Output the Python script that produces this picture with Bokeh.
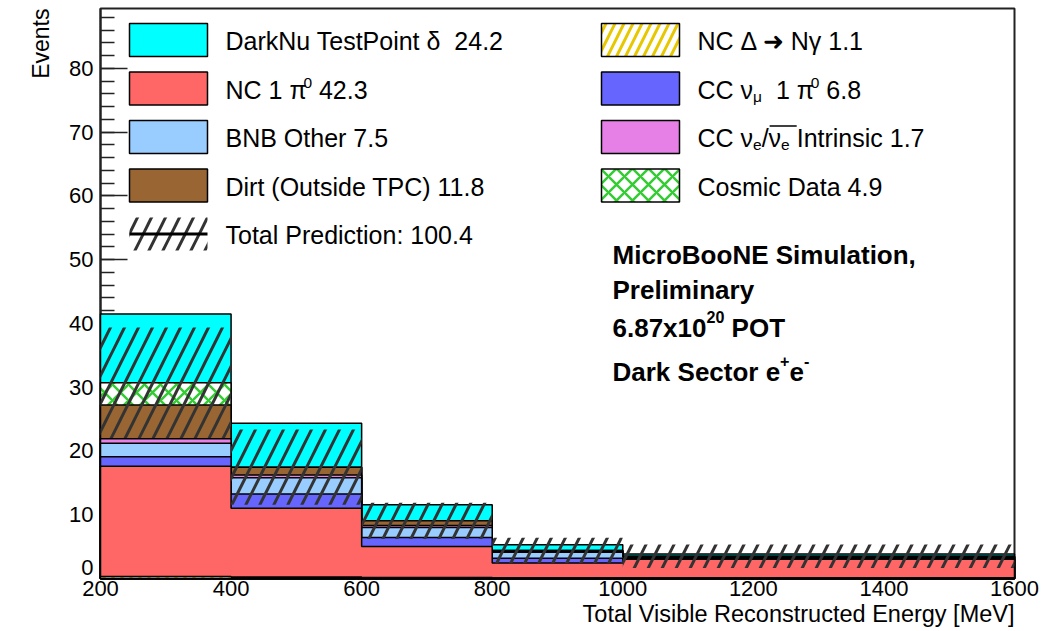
import numpy as np
from bokeh.plotting import figure
from bokeh.models import Range1d, SingleIntervalTicker, FixedTicker, Label, Title
from bokeh.embed import file_html
from bokeh.resources import INLINE

# ---------------- data ----------------
bin_edges = [200, 400, 600, 800, 1000, 1600]
nc_delta_ngamma = [0.30, 0.25, 0.15, 0.10, 0.10]
nc_1pi0 = [17.30, 10.75, 4.85, 2.35, 2.90]
cc_numu_1pi0 = [1.50, 2.25, 1.45, 0.72, 0.15]
bnb_other = [2.10, 2.55, 1.55, 0.95, 0.20]
cc_nue_intrinsic = [0.70, 0.45, 0.30, 0.10, 0.05]
dirt_outside_tpc = [5.30, 1.20, 0.75, 0.17, 0.10]
cosmic_data = [3.50, 0.00, 0.00, 0.00, 0.00]
darknu_testpoint = [10.80, 6.90, 2.50, 0.90, 0.35]
total_pred_error = [8.65, 5.90, 2.85, 2.00, 1.85]

y_tick_labels = ["0", "10", "20", "30", "40", "50", "60", "70", "80"]
legend_totals = {
    "darknu": "24.2", "nc1pi0": "42.3", "bnb": "7.5", "dirt": "11.8",
    "total": "100.4", "ncdelta": "1.1", "ccnumu": "6.8", "nue": "1.7",
    "cosmic": "4.9",
}
x_title = "Total Visible Reconstructed Energy [MeV]"
y_title = "Events"

# ---------------- layout ----------------
W, H = 1064, 631
L, R, T, B = 100, 1014, 8, 578
XMIN, XMAX = 200, 1600
YMIN, YMAX = 0.0, 89.4
FONT = "Liberation Sans"
ZERO_LABEL_LIFT = 1.75   # ROOT lifts the "0" label off the x axis


def fx(px):
    return XMIN + (px - L) * (XMAX - XMIN) / (R - L)


def fy(py):
    return YMIN + (B - py) * (YMAX - YMIN) / (B - T)


p = figure(width=W, height=H, x_range=Range1d(XMIN, XMAX), y_range=Range1d(YMIN, YMAX),
           output_backend="svg", toolbar_location=None,
           min_border_left=L, min_border_right=W - R, min_border_top=T, min_border_bottom=H - B)
p.xgrid.visible = False
p.ygrid.visible = False
p.background_fill_color = "white"
p.border_fill_color = "white"
p.outline_line_color = "#222222"
p.outline_line_width = 2

y_major = [float(v) for v in y_tick_labels]
y_major_pos = [v if v > 0 else v + ZERO_LABEL_LIFT for v in y_major]
p.yaxis.ticker = FixedTicker(ticks=y_major_pos, minor_ticks=list(np.arange(2, 89, 2)))
p.yaxis.major_label_overrides = {pos: lab for pos, lab in zip(y_major_pos, y_tick_labels)}
p.xaxis.ticker = SingleIntervalTicker(interval=200, num_minor_ticks=0)
for ax in (p.xaxis[0], p.yaxis[0]):
    ax.axis_line_color = "#222222"
    ax.axis_line_width = 2
    ax.major_tick_line_color = "#222222"
    ax.minor_tick_line_color = "#222222"
    ax.major_tick_line_width = 1.5
    ax.minor_tick_line_width = 1.5
    ax.major_label_text_font = FONT
    ax.major_label_text_font_size = "22px"
    ax.major_label_text_color = "black"
    ax.major_tick_out = 0
    ax.minor_tick_out = 0
p.yaxis.major_tick_in = 27
p.yaxis.minor_tick_in = 14
p.yaxis.major_label_standoff = 7
p.xaxis.major_tick_in = 0
p.xaxis.minor_tick_in = 0
p.xaxis.major_label_standoff = 2

# axis titles (ROOT style: right/top aligned)
xt = Title(text=x_title, align="right", text_font=FONT, text_font_size="23.5px",
           text_font_style="normal", text_color="black", standoff=1)
p.add_layout(xt, "below")
yt = Title(text=y_title, align="right", text_font=FONT, text_font_size="23px",
           text_font_style="normal", text_color="black", standoff=25)
p.add_layout(yt, "left")

# ---------------- stacked histogram ----------------
stack = [  # bottom -> top
    (nc_delta_ngamma, dict(fill_color="white", hatch_pattern="/", hatch_color="#e6c700", hatch_weight=3, hatch_scale=18)),
    (nc_1pi0, dict(fill_color="#ff6666")),
    (cc_numu_1pi0, dict(fill_color="#6666ff")),
    (bnb_other, dict(fill_color="#99ccff")),
    (cc_nue_intrinsic, dict(fill_color="#e680e6")),
    (dirt_outside_tpc, dict(fill_color="#996633")),
    (cosmic_data, dict(fill_color="white", hatch_pattern="x", hatch_color="#33cc33", hatch_weight=2.5, hatch_scale=16)),
    (darknu_testpoint, dict(fill_color="#00ffff")),
]
edges = np.array(bin_edges, dtype=float)
cum = np.cumsum(np.array([s[0] for s in stack], dtype=float), axis=0)


def step_polygon(vals):
    xs, ys = [edges[0]], [0.0]
    for i, v in enumerate(vals):
        xs += [edges[i], edges[i + 1]]
        ys += [v, v]
    xs.append(edges[-1])
    ys.append(0.0)
    return xs, ys


for k in range(len(stack) - 1, -1, -1):
    xs, ys = step_polygon(cum[k])
    r = p.patch(xs, ys, line_color="black", line_width=1.5, **stack[k][1])
    r.level = "annotation"

HATCH_TOTAL = dict(hatch_pattern="/", hatch_color="#333333", hatch_weight=3, hatch_scale=28)
background = cum[-2]
err = np.array(total_pred_error)
band = p.quad(left=edges[:-1], right=edges[1:], bottom=background - err, top=background + err,
              fill_color=None, line_color=None, **HATCH_TOTAL)
band.level = "annotation"

# ---------------- text helpers ----------------
AW = {' ': 278, '.': 278, ',': 278, ':': 278, '(': 333, ')': 333, '/': 278, '+': 584, '-': 333,
      'A': 667, 'B': 667, 'C': 722, 'D': 722, 'E': 667, 'I': 278, 'M': 833, 'N': 722, 'O': 778,
      'P': 667, 'S': 667, 'T': 611, 'V': 667,
      'a': 556, 'b': 556, 'c': 500, 'd': 556, 'e': 556, 'g': 556, 'h': 556, 'i': 222, 'k': 500,
      'l': 222, 'm': 833, 'n': 556, 'o': 556, 'r': 333, 's': 500, 't': 278, 'u': 556, 'v': 500,
      'x': 500, 'y': 500, 'ν': 500, 'μ': 577, 'π': 560, 'δ': 556, 'Δ': 668, 'γ': 500, '→': 1000}
BW = dict(AW)
BW.update({'r': 389, 'c': 556, 't': 333, 'o': 611, 'x': 556, 'k': 556, 'i': 278, 'l': 278,
           'n': 611, 'u': 611, 'm': 889, 'y': 556, 'a': 556, 'e': 556, 'P': 667})


def text_width(txt, size, bold=False):
    table = BW if bold else AW
    return sum(table.get(c, 556) for c in txt) / 1000.0 * size


def lbl(px, py, text, size, bold=False, align="left", angle=0.0):
    p.add_layout(Label(x=fx(px), y=fy(py), x_units="data", y_units="data", text=text,
                       text_font=FONT, text_font_size=f"{size:.1f}px",
                       text_font_style="bold" if bold else "normal",
                       text_align=align, text_baseline="alphabetic", angle=angle, text_color="black"))


def pieces(px, py_center, parts, size, bold=False, sup_raise=0.42, sub_drop=0.25, small=0.62):
    """Draw text pieces left to right; returns start x of each piece and the end x."""
    x = px
    starts = []
    for txt, kind in parts:
        if kind == "n":
            s, dy = size, 0.0
        elif kind == "sup":
            s, dy = size * small, -sup_raise * size
        else:
            s, dy = size * small, sub_drop * size
        lead = len(txt) - len(txt.lstrip(" "))
        x += text_width(" " * lead, s, bold)
        body = txt.lstrip(" ")
        starts.append(x)
        lbl(x, py_center + dy, body, s, bold)
        x += text_width(body, s, bold)
    starts.append(x)
    return starts


# ---------------- legend ----------------
FS = 25
rows = [39.5, 88.0, 136.5, 185.0, 233.5]
half_h = 16.5
colL = (129, 207, 225)
colR = (601, 679, 697)
LEG = dict(sup_raise=0.28, sub_drop=0.28, small=0.62)


def swatch(col, row, style):
    x0, x1, _ = col
    r = p.quad(left=[fx(x0)], right=[fx(x1)], top=[fy(rows[row] - half_h)], bottom=[fy(rows[row] + half_h)],
               line_color="black", line_width=1.5, **style)
    r.level = "annotation"


def tc(row):
    return rows[row] + 1.0


swatch(colL, 0, stack[7][1])
pieces(colL[2], tc(0), [(f"DarkNu TestPoint δ\u00a0 {legend_totals['darknu']}", "n")], FS, **LEG)
swatch(colL, 1, stack[1][1])
pieces(colL[2], tc(1), [("NC 1 π", "n"), ("0", "sup"), (f" {legend_totals['nc1pi0']}", "n")], FS, **LEG)
swatch(colL, 2, stack[3][1])
pieces(colL[2], tc(2), [(f"BNB Other {legend_totals['bnb']}", "n")], FS, **LEG)
swatch(colL, 3, stack[5][1])
pieces(colL[2], tc(3), [(f"Dirt (Outside TPC) {legend_totals['dirt']}", "n")], FS, **LEG)
# total prediction swatch: hatch + line
tq = p.quad(left=[fx(colL[0])], right=[fx(colL[1])], top=[fy(rows[4] - half_h)], bottom=[fy(rows[4] + half_h)],
            fill_color=None, line_color=None, **HATCH_TOTAL)
tq.level = "annotation"
tl = p.line([fx(colL[0]), fx(colL[1])], [fy(rows[4]), fy(rows[4])], line_color="black", line_width=3)
tl.level = "annotation"
pieces(colL[2], tc(4), [(f"Total Prediction: {legend_totals['total']}", "n")], FS, **LEG)

swatch(colR, 0, stack[0][1])
pieces(colR[2], tc(0), [(f"NC Δ ➜ Nγ {legend_totals['ncdelta']}", "n")], FS, **LEG)
swatch(colR, 1, stack[2][1])
pieces(colR[2], tc(1), [("CC ν", "n"), ("μ", "sub"), ("  1 π", "n"), ("0", "sup"),
                        (f" {legend_totals['ccnumu']}", "n")], FS, **LEG)
swatch(colR, 2, stack[4][1])
st = pieces(colR[2], tc(2), [("CC ν", "n"), ("e", "sub"), ("/", "n"), ("ν", "n"), ("e", "sub"),
                             (f" Intrinsic {legend_totals['nue']}", "n")], FS, **LEG)
ol = p.line([fx(st[3] + 1), fx(st[5])], [fy(rows[2] - 11), fy(rows[2] - 11)], line_color="black", line_width=1.5)
ol.level = "annotation"
swatch(colR, 3, stack[6][1])
pieces(colR[2], tc(3), [(f"Cosmic Data {legend_totals['cosmic']}", "n")], FS, **LEG)

# ---------------- experiment text ----------------
BF = 26
TXT = dict(sup_raise=0.44, sub_drop=0.25, small=0.62)
pieces(612, 254.5, [("MicroBooNE Simulation,", "n")], BF, bold=True, **TXT)
pieces(612, 289.5, [("Preliminary", "n")], BF, bold=True, **TXT)
pieces(612, 327.5, [("6.87x10", "n"), ("20", "sup"), (" POT", "n")], BF, bold=True, **TXT)
pieces(612, 371.5, [("Dark Sector e", "n"), ("+", "sup"), ("e", "n"), ("-", "sup")], BF, bold=True, **TXT)

open("out.html", "w").write(file_html(p, INLINE))
